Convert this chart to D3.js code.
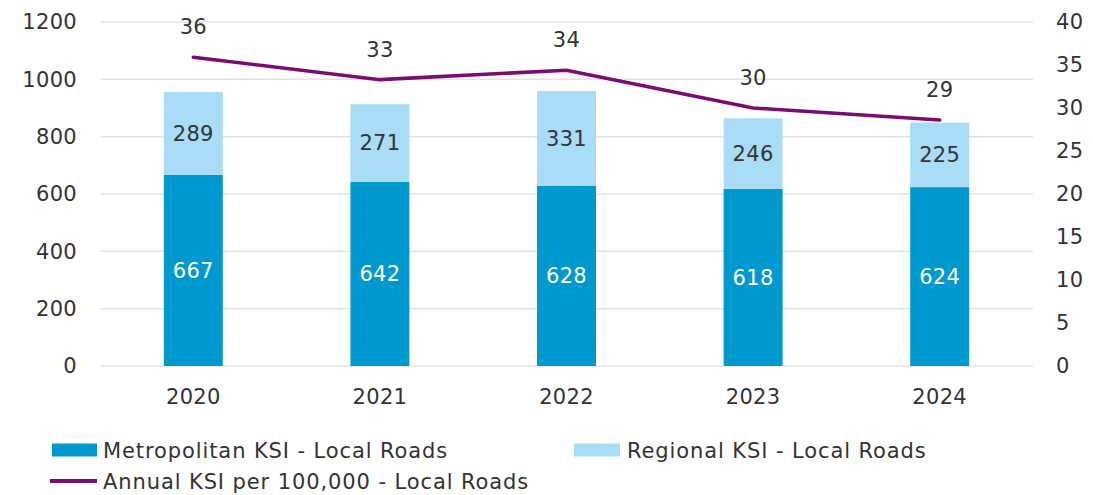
<!DOCTYPE html>
<html>
<head>
<meta charset="utf-8">
<script src="https://cdn.jsdelivr.net/npm/d3@7"></script>
<style>
  body { margin: 0; background: #fff; }
  svg { display: block; font-family: "DejaVu Sans", sans-serif; }
</style>
</head>
<body>
<script>
// chart data
var years = ["2020", "2021", "2022", "2023", "2024"];
var metroKsi = [667, 642, 628, 618, 624];
var regionalKsi = [289, 271, 331, 246, 225];
var ksiRate = [35.9, 33.3, 34.4, 30.0, 28.6];
var rateLabels = ["36", "33", "34", "30", "29"];
var leftTicks = [0, 200, 400, 600, 800, 1000, 1200];
var rightTicks = [0, 5, 10, 15, 20, 25, 30, 35, 40];

var W = 1093, H = 495;
var m = { left: 100, right: 60, top: 22, bottom: 129 };
var innerW = W - m.left - m.right;
var innerH = H - m.top - m.bottom;

var metroColor = "#0099cf";
var regionColor = "#a9dcf6";
var lineColor = "#7b0d6e";
var textColor = "#333";
var FONT = "'DejaVu Sans', sans-serif";

var svg = d3.select("body").append("svg").attr("width", W).attr("height", H);
var g = svg.append("g").attr("transform", "translate(" + m.left + "," + m.top + ")");

var x = d3.scaleBand().domain(years).range([0, innerW]).paddingInner(0.684).paddingOuter(0.342);
var yL = d3.scaleLinear().domain([0, 1200]).range([innerH, 0]);
var yR = d3.scaleLinear().domain([0, 40]).range([innerH, 0]);

function styleText(sel) {
  sel.attr("font-size", 21).attr("fill", textColor)
    .style("font-family", FONT).style("letter-spacing", "0.3px");
}

// gridlines
g.selectAll(".grid").data(leftTicks).enter().append("line")
  .attr("x1", 0).attr("x2", innerW)
  .attr("y1", function(d) { return yL(d); })
  .attr("y2", function(d) { return yL(d); })
  .attr("stroke", "#e3e3e3").attr("stroke-width", 1.5);

// left axis
var axL = g.append("g").call(d3.axisLeft(yL).tickValues(leftTicks).tickFormat(d3.format("d")).tickSize(0).tickPadding(23));
axL.select(".domain").remove();
axL.selectAll("text").call(styleText);

// right axis
var axR = g.append("g").attr("transform", "translate(" + innerW + ",0)")
  .call(d3.axisRight(yR).tickValues(rightTicks).tickSize(0).tickPadding(23));
axR.select(".domain").remove();
axR.selectAll("text").call(styleText);

// bottom axis
var axB = g.append("g").attr("transform", "translate(0," + innerH + ")")
  .call(d3.axisBottom(x).tickSize(0).tickPadding(23));
axB.select(".domain").remove();
axB.selectAll("text").call(styleText);

// stacked bars
var rows = years.map(function(y, i) {
  return { year: y, metro: metroKsi[i], regional: regionalKsi[i] };
});

g.selectAll(".metro").data(rows).enter().append("rect")
  .attr("x", function(d) { return x(d.year); })
  .attr("width", x.bandwidth())
  .attr("y", function(d) { return yL(d.metro); })
  .attr("height", function(d) { return yL(0) - yL(d.metro); })
  .attr("fill", metroColor);

g.selectAll(".regional").data(rows).enter().append("rect")
  .attr("x", function(d) { return x(d.year); })
  .attr("width", x.bandwidth())
  .attr("y", function(d) { return yL(d.metro + d.regional); })
  .attr("height", function(d) { return yL(d.metro) - yL(d.metro + d.regional); })
  .attr("fill", regionColor);

g.selectAll(".metroLbl").data(rows).enter().append("text")
  .attr("x", function(d) { return x(d.year) + x.bandwidth() / 2; })
  .attr("y", function(d) { return yL(d.metro / 2); })
  .attr("dy", "0.35em").attr("text-anchor", "middle")
  .text(function(d) { return d.metro; })
  .call(styleText).attr("fill", "#fff");

g.selectAll(".regLbl").data(rows).enter().append("text")
  .attr("x", function(d) { return x(d.year) + x.bandwidth() / 2; })
  .attr("y", function(d) { return yL(d.metro + d.regional / 2); })
  .attr("dy", "0.35em").attr("text-anchor", "middle")
  .text(function(d) { return d.regional; })
  .call(styleText);

// rate line
var line = d3.line()
  .x(function(d, i) { return x(years[i]) + x.bandwidth() / 2; })
  .y(function(d) { return yR(d); });

g.append("path").datum(ksiRate)
  .attr("d", line).attr("fill", "none")
  .attr("stroke", lineColor).attr("stroke-width", 3.5)
  .attr("stroke-linecap", "round");

g.selectAll(".rateLbl").data(ksiRate).enter().append("text")
  .attr("x", function(d, i) { return x(years[i]) + x.bandwidth() / 2; })
  .attr("y", function(d) { return yR(d) - 23; })
  .attr("text-anchor", "middle")
  .text(function(d, i) { return rateLabels[i]; })
  .call(styleText);

// legend
var lg = svg.append("g").attr("font-size", 21).attr("fill", textColor).style("letter-spacing", "0.9px");
var leg1 = lg.append("g").attr("transform", "translate(52,450)");
leg1.append("rect").attr("x", 0).attr("y", -6.5).attr("width", 45).attr("height", 13).attr("fill", metroColor);
leg1.append("text").attr("x", 51).attr("dy", "0.36em").text("Metropolitan KSI - Local Roads");

var leg2 = lg.append("g").attr("transform", "translate(574,450)");
leg2.append("rect").attr("x", 0).attr("y", -6.5).attr("width", 46).attr("height", 13).attr("fill", regionColor);
leg2.append("text").attr("x", 53).attr("dy", "0.36em").text("Regional KSI - Local Roads");

var leg3 = lg.append("g").attr("transform", "translate(50,481)");
leg3.append("line").attr("x1", 0).attr("x2", 47).attr("stroke", lineColor).attr("stroke-width", 4);
leg3.append("text").attr("x", 53).attr("dy", "0.36em").text("Annual KSI per 100,000 - Local Roads");
</script>
</body>
</html>
